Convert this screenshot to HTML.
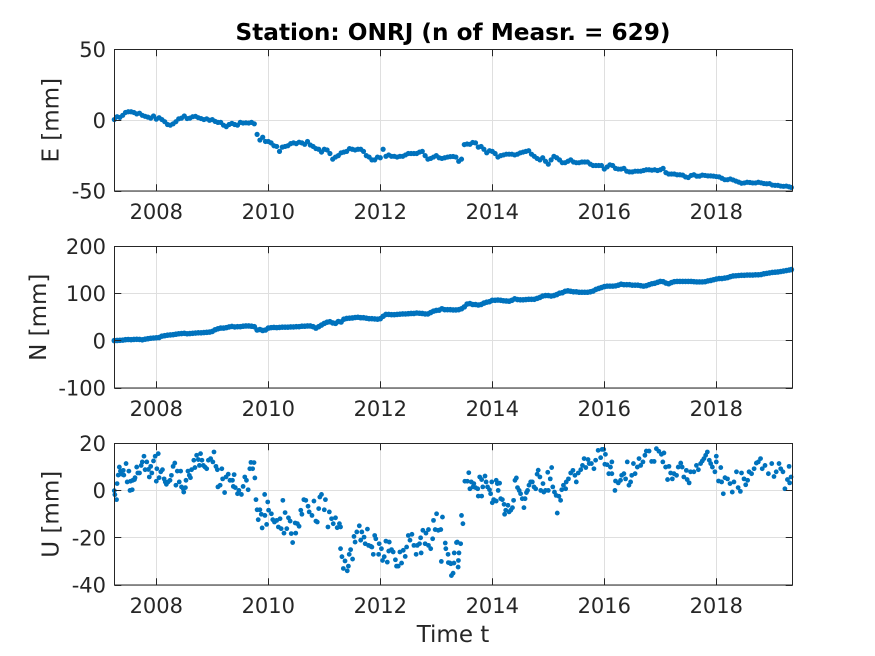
<!DOCTYPE html>
<html>
<head>
<meta charset="utf-8">
<title>Station: ONRJ</title>
<style>
html,body{margin:0;padding:0;background:#fff;}
#chart{display:block;width:875px;height:656px;}
text{font-family:"DejaVu Sans","Liberation Sans",sans-serif;fill:#262626;}
</style>
</head>
<body>
<svg id="chart" xmlns="http://www.w3.org/2000/svg" width="875" height="656" viewBox="0 0 875 656">
<text x="453" y="40" text-anchor="middle" font-size="23.2" font-weight="bold" style="fill:#000">Station: ONRJ (n of Measr. = 629)</text>
<text x="453" y="642" text-anchor="middle" font-size="23">Time t</text>
</svg>
<script>
const xTickYears = [2008, 2010, 2012, 2014, 2016, 2018];
const eTickLabels = [-50, 0, 50];
const nTickLabels = [-100, 0, 100, 200];
const uTickLabels = [-40, -20, 0, 20];

const positionTimes = [
2007.25,2007.30,2007.35,2007.40,2007.45,2007.50,2007.55,2007.60,2007.65,2007.70,2007.75,2007.80,2007.85,2007.90,2007.95,
2008.00,2008.05,2008.10,2008.15,2008.20,2008.25,2008.30,2008.35,2008.40,2008.45,2008.50,2008.55,2008.60,2008.65,2008.70,2008.75,2008.80,2008.85,2008.90,2008.95,
2009.00,2009.05,2009.10,2009.15,2009.20,2009.25,2009.30,2009.35,2009.40,2009.45,2009.50,2009.55,2009.60,2009.65,2009.70,2009.75,2009.80,2009.85,2009.90,2009.95,
2010.00,2010.05,2010.10,2010.15,2010.20,2010.25,2010.30,2010.35,2010.40,2010.45,2010.50,2010.55,2010.60,2010.65,2010.70,2010.75,2010.80,2010.85,2010.90,2010.95,
2011.00,2011.05,2011.10,2011.15,2011.20,2011.25,2011.30,2011.35,2011.40,2011.45,2011.50,2011.55,2011.60,2011.65,2011.70,2011.75,2011.80,2011.85,2011.90,2011.95,
2012.00,2012.05,2012.10,2012.15,2012.20,2012.25,2012.30,2012.35,2012.40,2012.45,2012.50,2012.55,2012.60,2012.65,2012.70,2012.75,2012.80,2012.85,2012.90,2012.95,
2013.00,2013.05,2013.10,2013.15,2013.20,2013.25,2013.30,2013.35,2013.40,2013.45,2013.50,2013.55,2013.60,2013.65,2013.70,2013.75,2013.80,2013.85,2013.90,2013.95,
2014.00,2014.05,2014.10,2014.15,2014.20,2014.25,2014.30,2014.35,2014.40,2014.45,2014.50,2014.55,2014.60,2014.65,2014.70,2014.75,2014.80,2014.85,2014.90,2014.95,
2015.00,2015.05,2015.10,2015.15,2015.20,2015.25,2015.30,2015.35,2015.40,2015.45,2015.50,2015.55,2015.60,2015.65,2015.70,2015.75,2015.80,2015.85,2015.90,2015.95,
2016.00,2016.05,2016.10,2016.15,2016.20,2016.25,2016.30,2016.35,2016.40,2016.45,2016.50,2016.55,2016.60,2016.65,2016.70,2016.75,2016.80,2016.85,2016.90,2016.95,
2017.00,2017.05,2017.10,2017.15,2017.20,2017.25,2017.30,2017.35,2017.40,2017.45,2017.50,2017.55,2017.60,2017.65,2017.70,2017.75,2017.80,2017.85,2017.90,2017.95,
2018.00,2018.05,2018.10,2018.15,2018.20,2018.25,2018.30,2018.35,2018.40,2018.45,2018.50,2018.55,2018.60,2018.65,2018.70,2018.75,2018.80,2018.85,2018.90,2018.95,
2019.00,2019.05,2019.10,2019.15,2019.20,2019.25,2019.30,2019.34
];

const eValues = [
0.5,2.5,2,3.5,5.5,6,6,5.5,4.5,5,3.5,2.8,2.2,1.5,3,
0.8,1.8,0.5,-1,-3,-3.5,-2.5,-1,1,1.5,3,1.2,1.5,2.5,2.8,1.8,1.2,0.5,1,0,
0.5,-0.8,-1.5,-1.5,-3.5,-4.5,-3,-2.2,-3,-3.5,-1.5,-2,-1.8,-2,-1.5,-2.5,-10,-14,-12,-15,
-15,-16,-18,-18.5,-22,-19,-18.5,-18,-16.5,-16,-16.5,-15.5,-16,-17,-15,-17.5,-18.5,-20,-20.5,-22.5,
-20.5,-21,-23.5,-27.5,-26,-25,-23,-22.5,-22,-20,-20.5,-21,-20.5,-20.5,-22,-25,-26,-28,-28,-26,
-26.5,-20.5,-25.5,-24.5,-25.5,-25.5,-26,-25.5,-25.5,-24.5,-23.5,-23.5,-23.5,-23.5,-22.5,-22,-25,-27.5,-27,-26,
-25,-26.5,-27,-26.5,-26,-25.7,-25.6,-26,-29,-27.5,-17.2,-16.8,-17,-15.7,-16,-19,-18.5,-20.5,-23,-21.5,
-22,-23.5,-26,-25,-24.5,-24,-24,-24,-24.5,-24,-23,-22.5,-22,-21.5,-24,-25.5,-27,-28,-26.5,-29,
-31,-28,-25.5,-26.5,-28,-30,-30,-29,-28,-29.5,-30,-30,-29.5,-29.5,-29.5,-31,-32,-32,-32,-32,
-34.5,-33,-31.5,-32,-34,-34.5,-34.5,-34,-36,-36.5,-36.5,-36,-36,-36,-35.5,-35,-35,-35.3,-35,-35.5,
-35,-34,-37,-38,-38,-38,-38.5,-38.5,-38.8,-40,-40.5,-39,-38.5,-39.5,-39.5,-38.8,-39,-39.3,-39.3,-39.5,
-39.8,-40,-41,-42,-42,-41.5,-42.2,-43,-43.7,-44.5,-44.3,-43.8,-44,-44.3,-44.3,-43.8,-44.2,-44.7,-44.9,-44.8,
-45.8,-46,-46,-46.5,-46.7,-46.5,-47,-47.5
];

const nValues = [
0.5,0.8,1.2,1.5,2.5,2.8,2.5,3,3.2,3,2.2,3.5,4.5,5.5,6,
6.5,7,10,11,12,12.5,13,14,15,15.5,16,15,15.5,16,16.5,17,17,17.5,18,18.5,
20,23.5,25.5,27,27,28,29.5,30.5,29.5,30,30,31,31.5,31.5,31,30,23,24,22,23,
27,28,28.5,28,28.5,29,29,29,29.5,29.5,30,30,31,31,31.5,31.5,30,27,30,33.5,
37,39.5,40.5,38,37,41,40,46,47.5,48,48.5,49.5,50,49,49,48,47,47,46.5,46,
47,52,56,56,55.5,55.5,56,56.5,57,57,57.5,58,58,59,58.5,58,57,57,60,63,
64.5,65,68,66,66,66,65.5,65.5,66,68,72,78,79,77,77,76,77,80,82,83,
86,86,86.5,86,85,84.5,84,86,89,87.5,87,87,87.5,88,88,88,90,92,95,96,
96,95,96,98,101,102,105,106,105,104,104,103,103,103,103,104,105.5,109,111,113,
115,116,116,116,116.5,118,120,119,119,119,118,118,118,117,116,117,119,121,122,124,
126,125.5,122.5,121,123.5,125.5,126,126,126,126,126,126,125.5,125,125,125,125.5,127,128,129.5,
131,132,132,133,134,136,137.5,138,138.5,139,139,139.5,139.5,139.5,140,140,140.5,142,143,144,
145,145.5,146,147,148,149,150,151
];

const uTimes = [
2007.25,2007.26,2007.29,2007.30,2007.32,2007.34,2007.36,2007.38,2007.41,2007.42,
2007.46,2007.48,2007.51,2007.53,2007.57,2007.54,2007.58,2007.61,2007.62,2007.65,
2007.67,2007.70,2007.73,2007.75,2007.78,2007.80,2007.83,2007.86,2007.875,2007.90,
2007.92,2007.95,2007.98,2008.00,2008.01,2008.035,2008.05,2008.08,2008.11,2008.14,
2008.16,2008.18,2008.21,2008.245,2008.27,2008.30,2008.33,2008.35,2008.375,2008.41,
2008.435,2008.45,2008.48,2008.49,2008.52,2008.53,2008.565,2008.59,2008.61,2008.63,
2008.67,2008.69,2008.72,2008.75,2008.77,2008.79,2008.815,2008.84,2008.87,2008.90,
2008.93,2008.97,2009.01,2009.03,2009.065,2009.09,2009.10,2009.14,2009.17,2009.185,
2009.22,2009.245,2009.285,2009.315,2009.36,2009.39,2009.375,2009.41,2009.45,2009.475,
2009.52,2009.55,2009.58,2009.61,2009.64,2009.67,2009.69,2009.72,2009.745,2009.76,
2009.78,2009.80,2009.82,2009.85,2009.875,2009.89,2009.935,2009.94,2009.97,2009.99,
2010.005,2010.055,2010.08,2010.11,2010.15,2010.18,2010.21,2010.23,2010.26,2010.28,
2010.30,2010.33,2010.36,2010.39,2010.41,2010.435,2010.48,2010.49,2010.52,2010.55,
2010.58,2010.60,2010.635,2010.67,2010.71,2010.73,2010.78,2010.815,2010.85,2010.875,
2010.90,2010.92,2010.95,2011.00,2011.02,2011.065,2011.09,2011.13,2011.16,2011.20,
2011.23,2011.27,2011.29,2011.29,2011.315,2011.34,2011.37,2011.41,2011.43,2011.445,
2011.47,2011.505,2011.53,2011.55,2011.58,2011.625,2011.65,2011.67,2011.71,2011.73,
2011.77,2011.79,2011.83,2011.85,2011.875,2011.90,2011.92,2011.97,2011.98,2012.02,
2012.04,2012.07,2012.10,2012.125,2012.16,2012.15,2012.20,2012.23,2012.27,2012.29,
2012.32,2012.35,2012.38,2012.41,2012.445,2012.47,2012.50,2012.53,2012.565,2012.60,
2012.64,2012.66,2012.70,2012.73,2012.72,2012.76,2012.80,2012.815,2012.86,2012.86,
2012.90,2012.935,2012.95,2013.005,2012.98,2013.035,2013.08,2013.11,2013.09,2013.16,
2013.17,2013.21,2013.245,2013.27,2013.30,2013.315,2013.375,2013.39,2013.215,2013.26,
2013.32,2013.36,2013.395,2013.405,2013.435,2013.45,2013.475,2013.51,2013.555,2013.58,
2013.60,2013.625,2013.655,2013.67,2013.70,2013.74,2013.75,2013.775,2013.81,2013.81,
2013.83,2013.87,2013.89,2013.915,2013.95,2013.97,2013.99,2014.00,2014.025,2014.07,
2014.09,2014.105,2014.07,2014.13,2014.15,2014.18,2014.21,2014.22,2014.24,2014.28,
2014.30,2014.33,2014.36,2014.38,2014.405,2014.43,2014.45,2014.48,2014.505,2014.535,
2014.565,2014.585,2014.61,2014.63,2014.655,2014.685,2014.715,2014.745,2014.775,2014.80,
2014.82,2014.85,2014.865,2014.905,2014.92,2014.95,2014.99,2015.00,2015.035,2015.06,
2015.08,2015.11,2015.14,2015.16,2015.19,2015.22,2015.24,2015.27,2015.31,2015.32,
2015.36,2015.40,2015.44,2015.475,2015.50,2015.535,2015.58,2015.61,2015.64,2015.67,
2015.71,2015.73,2015.77,2015.815,2015.845,2015.89,2015.935,2015.96,2015.99,2016.01,
2016.02,2016.05,2016.08,2016.11,2016.135,2016.135,2016.19,2016.20,2016.25,2016.29,
2016.31,2016.35,2016.38,2016.41,2016.44,2016.47,2016.49,2016.52,2016.55,2016.59,
2016.62,2016.65,2016.69,2016.725,2016.75,2016.80,2016.845,2016.89,2016.93,2016.975,
2017.02,2017.065,2017.045,2017.095,2017.13,2017.155,2017.185,2017.215,2017.245,2017.29,
2017.32,2017.365,2017.39,2017.42,2017.465,2017.48,2017.515,2017.54,2017.60,2017.645,
2017.68,2017.72,2017.75,2017.78,2017.81,2017.84,2017.875,2017.90,2017.93,2017.975,
2018.00,2018.00,2018.04,2018.08,2018.095,2018.125,2018.155,2018.20,2018.245,2018.285,
2018.315,2018.36,2018.39,2018.43,2018.45,2018.495,2018.525,2018.56,2018.585,2018.63,
2018.675,2018.715,2018.75,2018.79,2018.82,2018.87,2018.93,2018.99,2019.03,2019.07,
2019.12,2019.15,2019.19,2019.225,2019.27,2019.30,2019.31,2019.335
];

const uValues = [
0,-1.7,-3.8,3,6.6,10,8.3,7,8.6,6.6,
11.5,3.7,8.3,0.1,0.4,4,4.4,4.7,5.5,10,
7.5,7.5,10.7,12.2,14.6,8.9,12.2,9,5.8,10.3,
7.5,12.6,14.6,4,9.3,15.7,5.5,8,8.9,5,
3.7,2.7,3.7,4.4,6.5,10.3,11.7,2.3,8.3,3.7,
8.3,1.6,0.8,-0.6,1.3,4.4,8.3,6.5,5.5,8.9,
12.9,9.8,15,13.2,10.7,15.7,12.9,10.7,10,9.3,
12.9,13.6,12.2,16.4,10.3,8.9,1.6,2.3,9.3,5,
-0.8,5.8,7,4.4,4.4,6.8,1.8,1.3,-1.3,0.1,
-1.6,1.8,5.8,4.4,0.4,9.3,12,9.3,11.9,5.4,
-3.8,-8.1,-12.3,-8.1,-10,-15.8,-1.6,-10.5,-14.3,-4.8,
-8.3,-9.8,-12.3,-13.3,-12.6,-15.4,-11.9,-16.1,-4.1,-18,
-9.3,-16.1,-11.5,-12.9,-18.2,-22,-13.7,-18,-14,-15.1,
-8.3,-10,-3.8,-4.1,-6.6,-9,-10.5,-4.4,-12.9,-13.3,
-7.6,-2.7,-1.6,-8.1,-3.8,-15.4,-9,-11.9,-14,-11.5,
-15.7,-14,-15.4,-24.6,-28,-33,-29.8,-34,-32,-27,
-25,-29,-19.4,-21.8,-17.5,-14.9,-21,-17.5,-19.7,-22.5,
-16.3,-23.2,-23.6,-23.9,-27,-19,-20.4,-27,-22.5,-24.6,
-29.6,-28,-21.4,-30.3,-21.8,-25.6,-25,-26,-29.3,-32,
-32,-26,-30.7,-25.3,-27.9,-23.9,-19,-21,-18.5,-23.2,
-27,-23.2,-22.5,-26.4,-20,-16.8,-22.5,-18,-16.5,-23.2,
-24.6,-20.4,-12.6,-9.8,-16.5,-16.8,-16.5,-11.2,-30,-22.2,
-24.6,-27,-30.7,-36,-35,-30.7,-21.8,-32.4,-30.5,-31,
-26.4,-22,-29.6,-26.4,-22.5,-10.5,-14,4,4,7.6,
0.8,3.7,1.6,3,1.3,0.8,-2.3,5.8,-2.3,4.7,
1.6,6.2,3.7,1.6,0.4,-1.3,3.7,-5.1,-3.8,4.4,
3,0.1,-4.4,3.2,-3.4,-3.8,-5.8,-10,-8.3,-6.2,
-9,-8.3,-7.2,-4.1,4.4,5.4,1.3,0.1,-1.3,-3.4,
-7.2,-3.4,-0.8,0.1,2.3,3.7,3.7,1.6,0.8,7,
8.7,5.8,0.1,3,-0.6,0.1,7.8,0.1,5,9.8,
1.6,-0.6,-2,-9.5,-2.4,-4.1,0.4,2.3,0.8,3.7,
5,7.5,8.6,6.5,3.7,7.5,8.9,10.7,13.6,9.8,
13.2,11.5,11.5,9.3,12.9,17.1,14,17.5,17.5,11.2,
15.4,11,7.2,10,12.2,7.2,0.1,4.1,3.3,4.4,
6.5,7.2,5,12.2,2.3,3.7,6.5,11.5,7.2,10,
13.6,10.7,12.2,15,16.8,16.8,12.4,12.4,17.8,16.7,
15.4,16,12.2,10,4.7,10.3,7.5,5,7.2,6.5,
10,11.7,10,5.8,8.6,4.7,3.3,8,8,10.7,
8.9,11.5,12.6,13.6,15,16.4,12.9,11.5,10,8,
14.6,12.2,4.1,9.8,3.7,-1.3,5.5,5,3,-0.6,
3.7,8,1.3,-0.3,7.5,5,2.5,4.4,8,7.2,
9.3,11.7,12.2,13.6,9.3,10.7,7.2,11.5,6,8,
11.5,9.3,8,0.8,4.7,10.3,3.3,5.8
];

const SVG_NS = 'http://www.w3.org/2000/svg';
const svg = document.getElementById('chart');
const plotLeft = 114.5;
const plotRight = 792.5;
const xMinYear = 2007.2535;
const xMaxYear = 2019.3607;
const tickLength = 6.8;
const inkColor = '#262626';
const gridColor = '#dfdfdf';
const markColor = '#0072BD';

function xScale(year) {
  return plotLeft + (year - xMinYear) / (xMaxYear - xMinYear) * (plotRight - plotLeft);
}
function yScaleFor(panelTop, panelBottom, yMin, yMax) {
  return function (value) {
    return panelBottom - (value - yMin) / (yMax - yMin) * (panelBottom - panelTop);
  };
}
function addLine(parent, x1, y1, x2, y2, stroke) {
  const line = document.createElementNS(SVG_NS, 'line');
  line.setAttribute('x1', x1);
  line.setAttribute('y1', y1);
  line.setAttribute('x2', x2);
  line.setAttribute('y2', y2);
  line.setAttribute('stroke', stroke);
  line.setAttribute('stroke-width', '1');
  parent.appendChild(line);
  return line;
}
function addText(parent, x, y, content, anchor, size) {
  const label = document.createElementNS(SVG_NS, 'text');
  label.setAttribute('x', x);
  label.setAttribute('y', y);
  label.setAttribute('text-anchor', anchor);
  label.setAttribute('font-size', size);
  label.textContent = content;
  parent.appendChild(label);
  return label;
}
function drawPanel(key, axisTitle, titleX, panelTop, panelBottom, yTicks, times, values, radius) {
  const yScale = yScaleFor(panelTop, panelBottom, yTicks[0], yTicks[yTicks.length - 1]);
  const group = document.createElementNS(SVG_NS, 'g');
  
  
  svg.appendChild(group);

  const bg = document.createElementNS(SVG_NS, 'rect');
  bg.setAttribute('x', plotLeft);
  bg.setAttribute('y', panelTop);
  bg.setAttribute('width', plotRight - plotLeft);
  bg.setAttribute('height', panelBottom - panelTop);
  bg.setAttribute('fill', '#ffffff');
  
  
  group.appendChild(bg);

  xTickYears.forEach(function (year) {
    const x = Math.round(xScale(year)) + 0.5;
    const grid = addLine(group, x, panelTop, x, panelBottom, gridColor);
    
    
  });
  yTicks.forEach(function (value) {
    const y = Math.round(yScale(value) - 0.5) + 0.5;
    const grid = addLine(group, plotLeft, y, plotRight, y, gridColor);
    
    
  });

  const marks = document.createElementNS(SVG_NS, 'g');
  
  
  marks.setAttribute('fill', markColor);
  group.appendChild(marks);

  const frame = document.createElementNS(SVG_NS, 'rect');
  frame.setAttribute('x', plotLeft);
  frame.setAttribute('y', panelTop);
  frame.setAttribute('width', plotRight - plotLeft);
  frame.setAttribute('height', panelBottom - panelTop);
  frame.setAttribute('fill', 'none');
  frame.setAttribute('stroke', inkColor);
  frame.setAttribute('stroke-width', '1');
  
  
  group.appendChild(frame);

  xTickYears.forEach(function (year) {
    const x = Math.round(xScale(year)) + 0.5;
    const bottomTick = addLine(group, x, panelBottom, x, panelBottom - tickLength, inkColor);
    
    
    const topTick = addLine(group, x, panelTop, x, panelTop + tickLength, inkColor);
    
    
    const label = addText(group, xScale(year), panelBottom + 28, String(year), 'middle', 21);
    
    
  });
  yTicks.forEach(function (value) {
    const y = Math.round(yScale(value) - 0.5) + 0.5;
    const leftTick = addLine(group, plotLeft, y, plotLeft + tickLength, y, inkColor);
    
    
    const rightTick = addLine(group, plotRight, y, plotRight - tickLength, y, inkColor);
    
    
    const label = addText(group, 106, yScale(value) + 7.5, String(value), 'end', 21);
    
    
  });

  const titleY = (panelTop + panelBottom) / 2;
  const title = addText(group, 0, 0, axisTitle, 'middle', 23);
  title.setAttribute('transform', 'translate(' + titleX + ' ' + titleY + ') rotate(-90)');
  
  

  times.forEach(function (year, i) {
    const dot = document.createElementNS(SVG_NS, 'circle');
    dot.setAttribute('cx', xScale(year).toFixed(2));
    dot.setAttribute('cy', yScale(values[i]).toFixed(2));
    dot.setAttribute('r', radius);
    
    
    marks.appendChild(dot);
  });
}

drawPanel('east', 'E [mm]', 58.5, 49.5, 191, eTickLabels, positionTimes, eValues, 2.6);
drawPanel('north', 'N [mm]', 46, 246.5, 388, nTickLabels, positionTimes, nValues, 2.8);
drawPanel('up', 'U [mm]', 58.5, 443.5, 585, uTickLabels, uTimes, uValues, 2.4);
</script>
</body>
</html>
